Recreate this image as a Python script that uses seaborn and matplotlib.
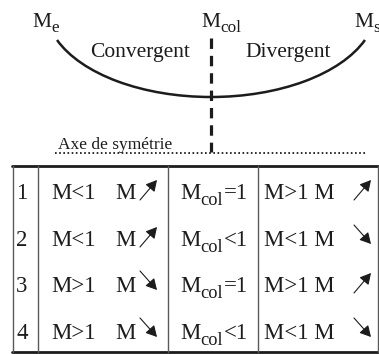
import numpy as np
import matplotlib
matplotlib.use("Agg")
import matplotlib.pyplot as plt
from matplotlib.patches import Arc
import seaborn as sns

# table content (rows 1..4)
row_ids = ["1", "2", "3", "4"]
conv_cond = ["M<1", "M<1", "M>1", "M>1"]
conv_trend = ["up", "up", "down", "down"]
col_cond = ["=1", "<1", "=1", "<1"]
div_cond = ["M>1", "M<1", "M>1", "M<1"]
div_trend = ["up", "down", "up", "down"]

# labels of the nozzle sketch
top_subs = ["e", "col", "s"]
zone_labels = ["Convergent", "Divergent"]
axis_label = "Axe de symétrie"

sns.set_style("white")
plt.rcParams["font.family"] = ["Liberation Serif", "DejaVu Serif"]
plt.rcParams["lines.scale_dashes"] = False

INK = "#1c1c1c"
FS = 15.5      # sketch labels
TFS = 16.5     # table text


def draw_arrow(ax, x0, base, trend):
    """Small slanted arrow after the 'M' (up = increasing, down = decreasing)."""
    if trend == "up":
        start, end = (x0, base + 1), (x0 + 17, base - 19)
    else:
        start, end = (x0, base - 21), (x0 + 17, base - 2)
    ax.annotate("", xy=end, xytext=start,
                arrowprops=dict(arrowstyle="-|>,head_length=0.55,head_width=0.3",
                                color=INK, lw=0.8, mutation_scale=12,
                                shrinkA=0, shrinkB=0))


def m_sub(ax, renderer, x, base, sub, size, tail="", drop=5):
    """'M' with a real subscript, then optional trailing text."""
    t = ax.text(x, base, "M", fontsize=size, color=INK, ha="left", va="baseline")
    bb = t.get_window_extent(renderer).transformed(ax.transData.inverted())
    x1 = max(bb.x0, bb.x1)
    s = ax.text(x1, base + drop, sub, fontsize=size * 0.8, color=INK,
                ha="left", va="baseline")
    if tail:
        bb = s.get_window_extent(renderer).transformed(ax.transData.inverted())
        ax.text(max(bb.x0, bb.x1) + 0.5, base, tail, fontsize=size, color=INK,
                ha="left", va="baseline")


def main():
    fig = plt.figure(figsize=(3.79, 3.54), dpi=100)
    ax = fig.add_axes([0, 0, 1, 1])
    ax.set_xlim(0, 379)
    ax.set_ylim(354, 0)
    ax.axis("off")
    renderer = fig.canvas.get_renderer()

    # nozzle profile (lower part of a wide ellipse)
    ang = np.degrees(np.arctan2(32, 154))
    ax.add_patch(Arc((211, 8), 330, 178, theta1=ang, theta2=180 - ang,
                     color=INK, lw=1.8))
    ax.plot([211, 211], [38, 152], color=INK, lw=2.3,
            linestyle=(0, (7.5, 5.0)), solid_capstyle="butt")
    ax.plot([55, 367], [153, 153], color=INK, lw=1.3,
            linestyle=(0, (1.2, 1.8)))

    for sub, x in zip(top_subs, [32, 201, 354]):
        m_sub(ax, renderer, x, 27, sub, FS)
    for lab, x in zip(zone_labels, [90, 245]):
        ax.text(x, 57, lab, fontsize=FS, color=INK, ha="left", va="baseline")
    ax.text(58, 149, axis_label, fontsize=12.5, color=INK, ha="left", va="baseline")

    # table frame
    ax.plot([12, 379], [166, 166], color=INK, lw=2.0)
    ax.plot([12, 379], [352, 352], color=INK, lw=2.0)
    for x in [12.5, 37.5, 167.5, 257.5, 378]:
        ax.plot([x, x], [166, 352], color="#5a5a5a", lw=1.0)

    baselines = [199, 246, 292, 339]
    for i, base in enumerate(baselines):
        ax.text(22, base, row_ids[i], fontsize=TFS, color=INK, ha="center", va="baseline")
        ax.text(51, base, conv_cond[i], fontsize=TFS, color=INK,
                ha="left", va="baseline")
        ax.text(115, base, "M", fontsize=TFS, color=INK, ha="left", va="baseline")
        draw_arrow(ax, 140, base, conv_trend[i])
        m_sub(ax, renderer, 180, base, "col", TFS, tail=col_cond[i], drop=6)
        ax.text(264, base, div_cond[i] + " M", fontsize=TFS, color=INK,
                ha="left", va="baseline")
        draw_arrow(ax, 354, base, div_trend[i])

    fig.savefig("out.png", dpi=100, facecolor="white")


if __name__ == "__main__":
    main()
